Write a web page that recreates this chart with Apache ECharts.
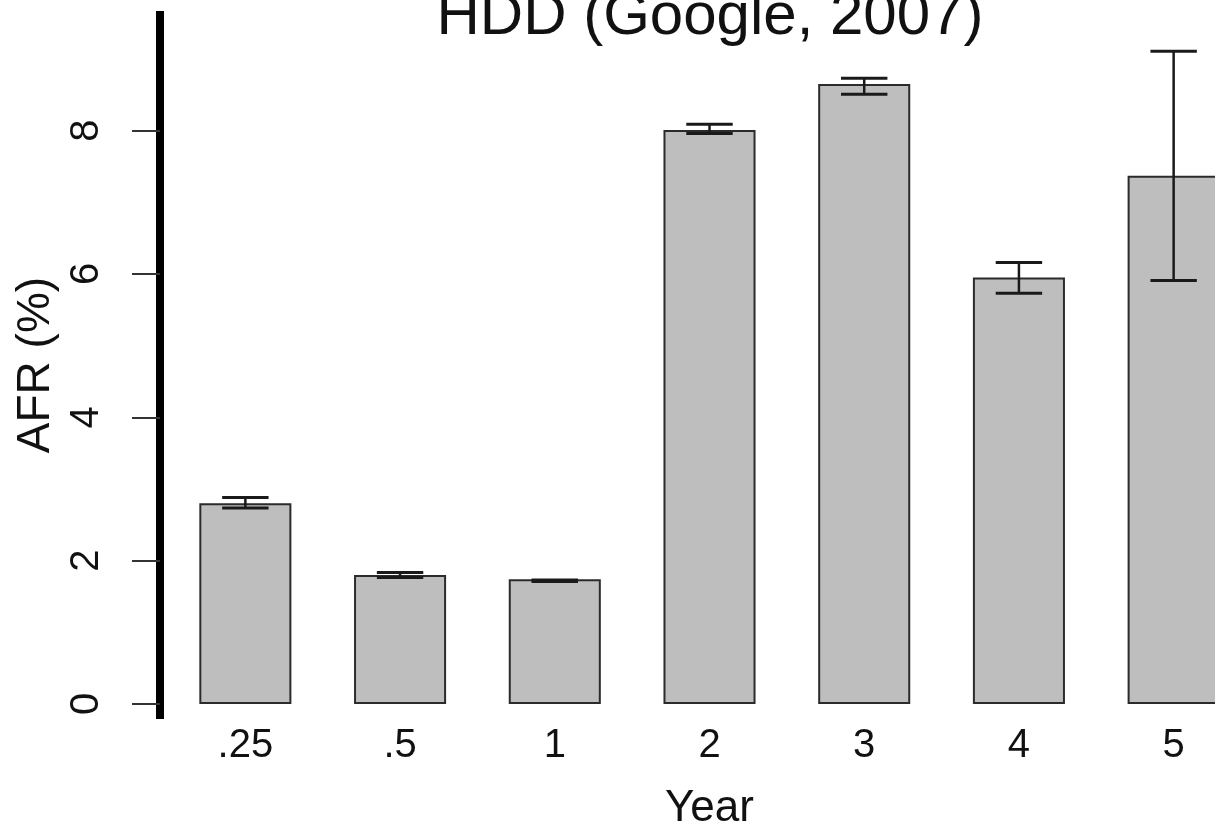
<!DOCTYPE html>
<html>
<head>
<meta charset="utf-8">
<title>HDD (Google, 2007)</title>
<script src="https://cdn.jsdelivr.net/npm/echarts@6/dist/echarts.min.js"></script>
<style>
  html, body { margin: 0; padding: 0; background: #ffffff; }
  #chart { width: 1215px; height: 828px; }
</style>
</head>
<body>
<div id="chart"></div>
<script>
// Annualized failure rate by drive age
const years = ['.25', '.5', '1', '2', '3', '4', '5'];
const afr = [2.80, 1.80, 1.74, 8.01, 8.65, 5.95, 7.37];
const errLow = [2.735, 1.765, 1.71, 7.96, 8.51, 5.73, 5.91];
const errHigh = [2.88, 1.835, 1.73, 8.09, 8.73, 6.16, 9.11];
const yTicks = [0, 2, 4, 6, 8];

const FONT = '"Liberation Sans", Arial, Helvetica, sans-serif';

const chart = echarts.init(document.getElementById('chart'), null, { renderer: 'canvas' });

const errorData = years.map((y, i) => [i, errLow[i], errHigh[i]]);

chart.setOption({
  backgroundColor: '#ffffff',
  animation: false,
  title: {
    text: 'HDD (Google, 2007)',
    left: 710,
    top: -13,
    padding: 0,
    textAlign: 'center',
    textStyle: { fontFamily: FONT, fontSize: 60, fontWeight: 'normal', color: '#111' }
  },
  // plot area runs past the right edge, so the last bar is cut off
  grid: { left: 168, width: 1083, top: 11, height: 708, containLabel: false, outerBoundsMode: 'none' },
  xAxis: {
    type: 'category',
    data: years,
    boundaryGap: true,
    name: 'Year',
    nameLocation: 'middle',
    nameGap: 68,
    nameTextStyle: { fontFamily: FONT, fontSize: 44, color: '#111' },
    axisLine: { show: false },
    axisTick: { show: false },
    axisLabel: { margin: 7, fontFamily: FONT, fontSize: 40, color: '#111' },
    splitLine: { show: false }
  },
  yAxis: {
    type: 'value',
    min: -0.21,
    max: 9.67,
    position: 'left',
    offset: 8,
    name: 'AFR (%)',
    nameLocation: 'middle',
    nameRotate: 90,
    nameGap: 100,
    nameTextStyle: { fontFamily: FONT, fontSize: 46, color: '#111' },
    axisLine: { show: true, onZero: false, lineStyle: { color: '#000', width: 8, cap: 'butt' } },
    axisTick: { show: true, length: 28, customValues: yTicks, lineStyle: { color: '#333', width: 2 } },
    axisLabel: { rotate: 90, margin: 53, customValues: yTicks, fontFamily: FONT, fontSize: 40, color: '#111' },
    splitLine: { show: false }
  },
  series: [
    {
      type: 'bar',
      data: afr,
      barWidth: '59.5%',
      itemStyle: { color: '#bebebe', borderColor: '#2b2b2b', borderWidth: 2 },
      z: 2
    },
    {
      type: 'custom',
      data: errorData,
      z: 3,
      renderItem: function (params, api) {
        const i = api.value(0);
        const lo = api.coord([i, api.value(1)]);
        const hi = api.coord([i, api.value(2)]);
        const half = api.size([1, 0])[0] * 0.15;
        const stem = { stroke: '#1a1a1a', lineWidth: 2.5 };
        const cap = { stroke: '#1a1a1a', lineWidth: 3 };
        return {
          type: 'group',
          children: [
            { type: 'line', shape: { x1: hi[0], y1: hi[1], x2: lo[0], y2: lo[1] }, style: stem },
            { type: 'line', shape: { x1: hi[0] - half, y1: hi[1], x2: hi[0] + half, y2: hi[1] }, style: cap },
            { type: 'line', shape: { x1: lo[0] - half, y1: lo[1], x2: lo[0] + half, y2: lo[1] }, style: cap }
          ]
        };
      }
    }
  ]
});
</script>
</body>
</html>
